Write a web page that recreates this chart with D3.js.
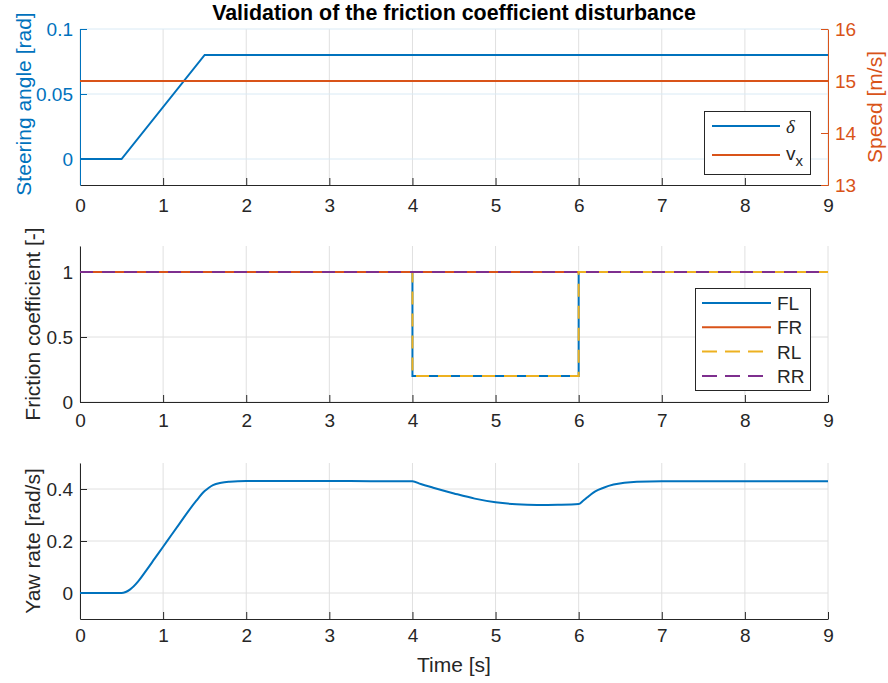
<!DOCTYPE html>
<html>
<head>
<meta charset="utf-8">
<script src="https://cdn.jsdelivr.net/npm/d3@7"></script>
<style>
  html, body { margin: 0; padding: 0; background: #fff; }
  svg { display: block; }
</style>
</head>
<body>
<svg id="chart" width="888" height="683" font-family="'Liberation Sans', Arial, Helvetica, sans-serif"></svg>
<script>
// ---- data ----
const steerTime = [0, 0.5, 1.5, 9];
const steerAngle = [0, 0, 0.08, 0.08];
const speedTime = [0, 9];
const speedVal = [15, 15];

const flTime = [0, 4, 4, 6, 6, 9];
const flMu = [1, 1, 0.2, 0.2, 1, 1];
const frTime = [0, 9];
const frMu = [1, 1];
const rlTime = [0, 4, 4, 6, 6, 9];
const rlMu = [1, 1, 0.2, 0.2, 1, 1];
const rrTime = [0, 9];
const rrMu = [1, 1];

const yawTime = [0, 0.5, 0.55, 0.6, 0.7, 0.8, 0.9, 1.0, 1.1, 1.2, 1.3, 1.4, 1.5, 1.55, 1.6, 1.7, 1.8, 2.0,
  2.5, 3.0, 3.5, 4.0, 4.1, 4.25, 4.5, 4.75, 5.0, 5.25, 5.5, 5.75, 6.0, 6.05, 6.1, 6.15, 6.2, 6.3, 6.42,
  6.55, 6.7, 7.0, 8.0, 9.0];
const yawRate = [0, 0, 0.004, 0.013, 0.045, 0.088, 0.133, 0.178, 0.223, 0.268, 0.313, 0.355, 0.392, 0.405,
  0.415, 0.424, 0.428, 0.431, 0.431, 0.431, 0.430, 0.430, 0.419, 0.405, 0.383, 0.363, 0.349, 0.341,
  0.338, 0.339, 0.342, 0.354, 0.367, 0.380, 0.391, 0.405, 0.417, 0.424, 0.428, 0.430, 0.430, 0.430];

const xTicks = [0, 1, 2, 3, 4, 5, 6, 7, 8, 9];
const steerTicks = [0, 0.05, 0.1];
const speedTicks = [13, 14, 15, 16];
const muTicks = [0, 0.5, 1];
const yawTicks = [0, 0.2, 0.4];

// ---- styling ----
const C = { blue: "#0072BD", orange: "#D95319", yellow: "#EDB120", purple: "#7E2F8E", ink: "#262626" };
const gridGray = "#e0e0e0";
const gridBlue = "#d9eaf5";
const tickFont = 19, labelFont = 21, tickLen = 7;

const svg = d3.select("#chart");
const L = 80, R = 828;
const x = d3.scaleLinear().domain([0, 9]).range([L, R]);

const panels = [
  { top: 29, bottom: 185, domain: [-0.02, 0.1], ticks: steerTicks, axisColor: C.blue, hgrid: gridBlue, xlabBase: 212 },
  { top: 246, bottom: 402, domain: [0, 1.2], ticks: muTicks, axisColor: C.ink, hgrid: gridGray, xlabBase: 427 },
  { top: 463, bottom: 619, domain: [-0.1, 0.5], ticks: yawTicks, axisColor: C.ink, hgrid: gridGray, xlabBase: 642 }
];
panels.forEach(p => { p.y = d3.scaleLinear().domain(p.domain).range([p.bottom, p.top]); });

function drawFrame(p) {
  const g = svg.append("g");
  // grid
  g.selectAll(".vg").data(xTicks).enter().append("line")
    .attr("x1", d => x(d)).attr("x2", d => x(d)).attr("y1", p.top).attr("y2", p.bottom)
    .attr("stroke", gridGray).attr("stroke-width", 1);
  g.selectAll(".hg").data(p.ticks).enter().append("line")
    .attr("x1", L).attr("x2", R).attr("y1", d => p.y(d)).attr("y2", d => p.y(d))
    .attr("stroke", p.hgrid).attr("stroke-width", 1);
  // x axis (ticks pointing inward)
  const xa = g.append("g").attr("transform", `translate(0,${p.bottom})`)
    .call(d3.axisBottom(x).tickValues(xTicks).tickSize(-tickLen).tickSizeOuter(0).tickFormat(d3.format("d")));
  xa.attr("font-family", null).attr("font-size", null);
  xa.select(".domain").attr("stroke", C.ink).attr("stroke-width", 1);
  xa.selectAll(".tick line").attr("stroke", C.ink);
  xa.selectAll(".tick text").attr("fill", C.ink).attr("font-size", tickFont)
    .attr("dy", null).attr("y", p.xlabBase - p.bottom);
  // y axis
  const ya = g.append("g").attr("transform", `translate(${L},0)`)
    .call(d3.axisLeft(p.y).tickValues(p.ticks).tickSize(-tickLen).tickSizeOuter(0).tickFormat(d => String(+d.toFixed(2))));
  ya.attr("font-family", null).attr("font-size", null);
  ya.select(".domain").attr("stroke", p.axisColor).attr("stroke-width", 1);
  ya.selectAll(".tick line").attr("stroke", p.axisColor);
  ya.selectAll(".tick text").attr("fill", p.axisColor).attr("font-size", tickFont)
    .attr("x", -7).attr("dy", "0.35em");
  return g;
}

function drawLine(p, ts, vs, color, dash, yScale, curve) {
  const ys = yScale || p.y;
  const pts = ts.map((t, i) => [t, vs[i]]);
  svg.append("path").datum(pts)
    .attr("d", d3.line().x(d => x(d[0])).y(d => ys(d[1])).curve(curve || d3.curveLinear))
    .attr("fill", "none").attr("stroke", color).attr("stroke-width", 2)
    .attr("stroke-dasharray", dash || null);
}

panels.forEach(drawFrame);

// ---- panel 1: steering angle & speed ----
const p1 = panels[0];
const ySpeed = d3.scaleLinear().domain([13, 16]).range([p1.bottom, p1.top]);
drawLine(p1, steerTime, steerAngle, C.blue);
drawLine(p1, speedTime, speedVal, C.orange, null, ySpeed);
const ra = svg.append("g").attr("transform", `translate(${R},0)`)
  .call(d3.axisRight(ySpeed).tickValues(speedTicks).tickSize(-tickLen).tickSizeOuter(0).tickFormat(d3.format("d")));
ra.attr("font-family", null).attr("font-size", null);
ra.select(".domain").attr("stroke", C.orange);
ra.selectAll(".tick line").attr("stroke", C.orange);
ra.selectAll(".tick text").attr("fill", C.orange).attr("font-size", tickFont).attr("x", 7).attr("dy", "0.35em");

svg.append("text").attr("transform", `translate(31,${(p1.top + p1.bottom) / 2 - 3}) rotate(-90)`)
  .attr("text-anchor", "middle").attr("font-size", 21).attr("fill", C.blue).text("Steering angle [rad]");
svg.append("text").attr("transform", `translate(882,${(p1.top + p1.bottom) / 2}) rotate(-90)`)
  .attr("text-anchor", "middle").attr("font-size", labelFont).attr("fill", C.orange).text("Speed [m/s]");

// legend 1
const lg1 = svg.append("g");
lg1.append("rect").attr("x", 704.5).attr("y", 111.5).attr("width", 106).attr("height", 63)
  .attr("fill", "#fff").attr("stroke", C.ink).attr("stroke-width", 1);
lg1.append("line").attr("x1", 712).attr("x2", 780).attr("y1", 126).attr("y2", 126).attr("stroke", C.blue).attr("stroke-width", 2);
lg1.append("line").attr("x1", 712).attr("x2", 780).attr("y1", 155).attr("y2", 155).attr("stroke", C.orange).attr("stroke-width", 2);
lg1.append("text").attr("x", 786).attr("y", 133).attr("font-size", 19).attr("font-style", "italic")
  .attr("font-family", "'Liberation Serif', 'DejaVu Serif', serif").attr("fill", C.ink).text("δ");
const vx = lg1.append("text").attr("x", 786).attr("y", 160).attr("font-size", 19).attr("fill", C.ink);
vx.append("tspan").text("v");
vx.append("tspan").attr("font-size", 15).attr("dy", 6).text("x");

// title
svg.append("text").attr("x", (L + R) / 2).attr("y", 20).attr("text-anchor", "middle")
  .attr("font-size", 21.4).attr("font-weight", "bold").attr("fill", "#000")
  .text("Validation of the friction coefficient disturbance");

// ---- panel 2: friction coefficient ----
const p2 = panels[1];
const dash = "13 9";
drawLine(p2, flTime, flMu, C.blue);
drawLine(p2, frTime, frMu, C.orange);
drawLine(p2, rlTime, rlMu, C.yellow, dash);
drawLine(p2, rrTime, rrMu, C.purple, dash);
svg.append("text").attr("transform", `translate(40,${(p2.top + p2.bottom) / 2}) rotate(-90)`)
  .attr("text-anchor", "middle").attr("font-size", labelFont).attr("fill", C.ink).text("Friction coefficient [-]");

const lg2 = svg.append("g");
lg2.append("rect").attr("x", 695.5).attr("y", 288.5).attr("width", 115).attr("height", 102)
  .attr("fill", "#fff").attr("stroke", C.ink).attr("stroke-width", 1);
const legItems = [
  { name: "FL", color: C.blue, dash: null },
  { name: "FR", color: C.orange, dash: null },
  { name: "RL", color: C.yellow, dash: "15 8" },
  { name: "RR", color: C.purple, dash: "15 8" }
];
legItems.forEach((it, i) => {
  const yy = 303 + i * 24.3;
  lg2.append("line").attr("x1", 702).attr("x2", 771).attr("y1", yy).attr("y2", yy)
    .attr("stroke", it.color).attr("stroke-width", 2).attr("stroke-dasharray", it.dash);
  lg2.append("text").attr("x", 777).attr("y", yy + 7).attr("font-size", 19).attr("fill", C.ink).text(it.name);
});

// ---- panel 3: yaw rate ----
const p3 = panels[2];
drawLine(p3, yawTime, yawRate, C.blue, null, null, d3.curveMonotoneX);
svg.append("text").attr("transform", `translate(40,${(p3.top + p3.bottom) / 2}) rotate(-90)`)
  .attr("text-anchor", "middle").attr("font-size", labelFont).attr("fill", C.ink).text("Yaw rate [rad/s]");
svg.append("text").attr("x", (L + R) / 2).attr("y", 672).attr("text-anchor", "middle")
  .attr("font-size", labelFont).attr("fill", C.ink).text("Time [s]");
</script>
</body>
</html>
